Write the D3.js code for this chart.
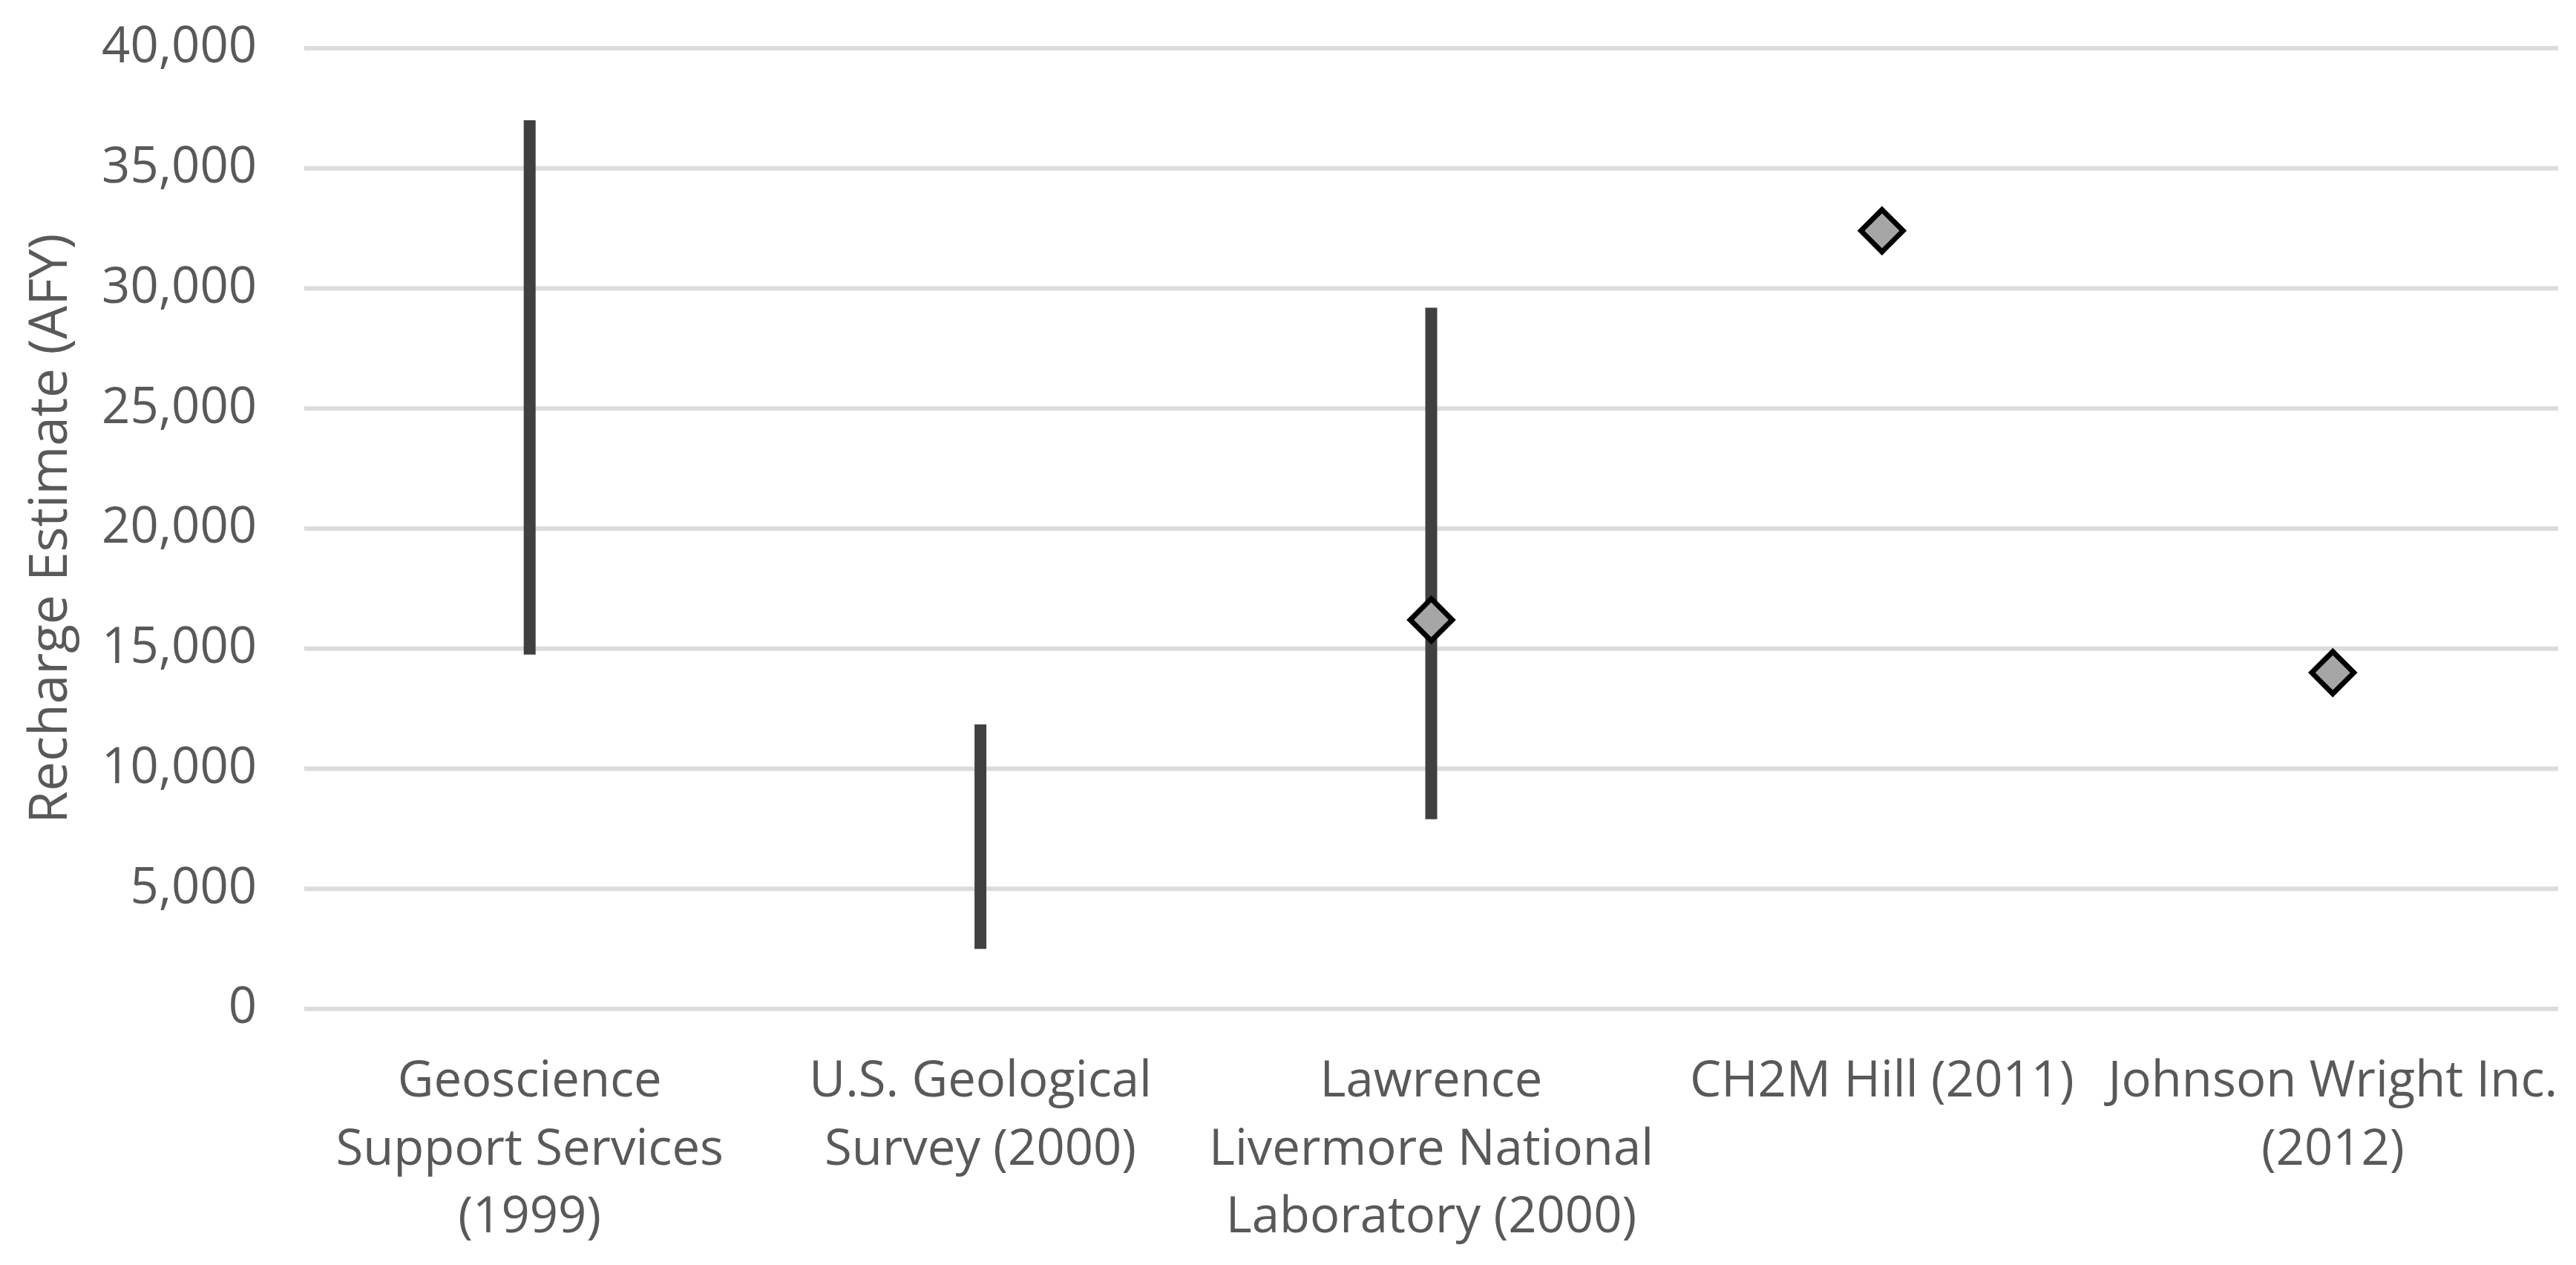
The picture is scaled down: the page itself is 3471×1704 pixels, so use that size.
<!DOCTYPE html>
<html lang="en">
	<head>
		<meta charset="utf-8">
		<title>Recharge Estimates</title>
		<script src="https://d3js.org/d3.v7.min.js"></script>
		<style type="text/css">
			body {
				margin: 0;
				background: #ffffff;
			}

			.axis text {
				font-family: "Open Sans", sans-serif;
				font-size: 67px;
				fill: #595959;
			}

			.grid line {
				stroke: #dcdcdc;
				stroke-width: 6;
			}

			.range {
				stroke: #404040;
				stroke-width: 16;
			}

			.point {
				fill: #a6a6a6;
				stroke: #000000;
				stroke-width: 7;
			}
		</style>
	</head>
	<body>
		<script type="text/javascript">
			//Width and height
			var w = 3471;
			var h = 1704;
			var margin = { top: 65, right: 24, bottom: 345, left: 410 };

			//Categories (one entry per study), with label lines as wrapped in the chart
			var studies = ["GSS", "USGS", "LLNL", "CH2M", "JWI"];
			var studyLabels = [
				["Geoscience", "Support Services", "(1999)"],
				["U.S. Geological", "Survey (2000)"],
				["Lawrence", "Livermore National", "Laboratory (2000)"],
				["CH2M Hill (2011)"],
				["Johnson Wright Inc.", "(2012)"]
			];

			//Range estimates (low / high), null where only a single value was given
			var rangeLow  = [14750, 2500, 7900, null, null];
			var rangeHigh = [37000, 11850, 29200, null, null];

			//Single point estimates
			var pointValue = [null, null, 16200, 32400, 14000];

			//Y axis ticks
			var yTicks = [0, 5000, 10000, 15000, 20000, 25000, 30000, 35000, 40000];
			var yTitle = "Recharge Estimate (AFY)";

			//Scales
			var xScale = d3.scaleBand()
						   .domain(studies)
						   .range([margin.left, w - margin.right])
						   .padding(0);
			var yScale = d3.scaleLinear()
						   .domain([0, 40000])
						   .range([h - margin.bottom, margin.top]);

			var svg = d3.select("body")
						.append("svg")
						.attr("width", w)
						.attr("height", h);

			//Gridlines
			svg.append("g")
			   .attr("class", "grid")
			   .selectAll("line")
			   .data(yTicks)
			   .enter()
			   .append("line")
			   .attr("x1", margin.left)
			   .attr("x2", w - margin.right)
			   .attr("y1", function(d) { return yScale(d); })
			   .attr("y2", function(d) { return yScale(d); });

			//Y axis labels
			var yAxis = d3.axisLeft(yScale)
						  .tickValues(yTicks)
						  .tickFormat(d3.format(","))
						  .tickSize(0)
						  .tickPadding(64);

			var yAxisG = svg.append("g")
							.attr("class", "axis")
							.attr("transform", "translate(" + margin.left + ",0)")
							.call(yAxis);
			yAxisG.select(".domain").remove();
			yAxisG.selectAll("text")
				  .attr("dy", "0.28em")
				  .style("font-family", "'Open Sans', sans-serif")
				  .style("font-size", "67px")
				  .style("fill", "#595959");

			//Y axis title
			svg.append("text")
			   .attr("transform", "translate(90," + ((margin.top + h - margin.bottom) / 2) + ") rotate(-90)")
			   .attr("text-anchor", "middle")
			   .style("font-family", "'Open Sans', sans-serif")
			   .style("font-size", "71px")
			   .style("fill", "#595959")
			   .text(yTitle);

			//X axis category labels
			var xLabels = svg.append("g")
							 .attr("class", "axis")
							 .selectAll("text")
							 .data(studies)
							 .enter()
							 .append("text")
							 .attr("text-anchor", "middle")
							 .attr("x", function(d) { return xScale(d) + xScale.bandwidth() / 2; })
							 .attr("y", 1477);

			xLabels.selectAll("tspan")
				   .data(function(d, i) { return studyLabels[i]; })
				   .enter()
				   .append("tspan")
				   .attr("x", function() { return d3.select(this.parentNode).attr("x"); })
				   .attr("dy", function(d, i) { return i === 0 ? 0 : 91.5; })
				   .text(function(d) { return d; });

			//Range lines
			var rangeData = studies.map(function(s, i) {
				return { study: s, low: rangeLow[i], high: rangeHigh[i] };
			}).filter(function(d) { return d.low !== null; });

			svg.append("g")
			   .selectAll("line")
			   .data(rangeData)
			   .enter()
			   .append("line")
			   .attr("class", "range")
			   .attr("x1", function(d) { return xScale(d.study) + xScale.bandwidth() / 2; })
			   .attr("x2", function(d) { return xScale(d.study) + xScale.bandwidth() / 2; })
			   .attr("y1", function(d) { return yScale(d.low); })
			   .attr("y2", function(d) { return yScale(d.high); });

			//Point estimates (diamonds)
			var pointData = studies.map(function(s, i) {
				return { study: s, value: pointValue[i] };
			}).filter(function(d) { return d.value !== null; });

			var diamond = d3.symbol().type(d3.symbolDiamond2).size(2 * 32 * 32);

			svg.append("g")
			   .selectAll("path")
			   .data(pointData)
			   .enter()
			   .append("path")
			   .attr("class", "point")
			   .attr("d", diamond)
			   .attr("transform", function(d) {
					return "translate(" + (xScale(d.study) + xScale.bandwidth() / 2) + "," + yScale(d.value) + ")";
			   });
		</script>
	</body>
</html>
